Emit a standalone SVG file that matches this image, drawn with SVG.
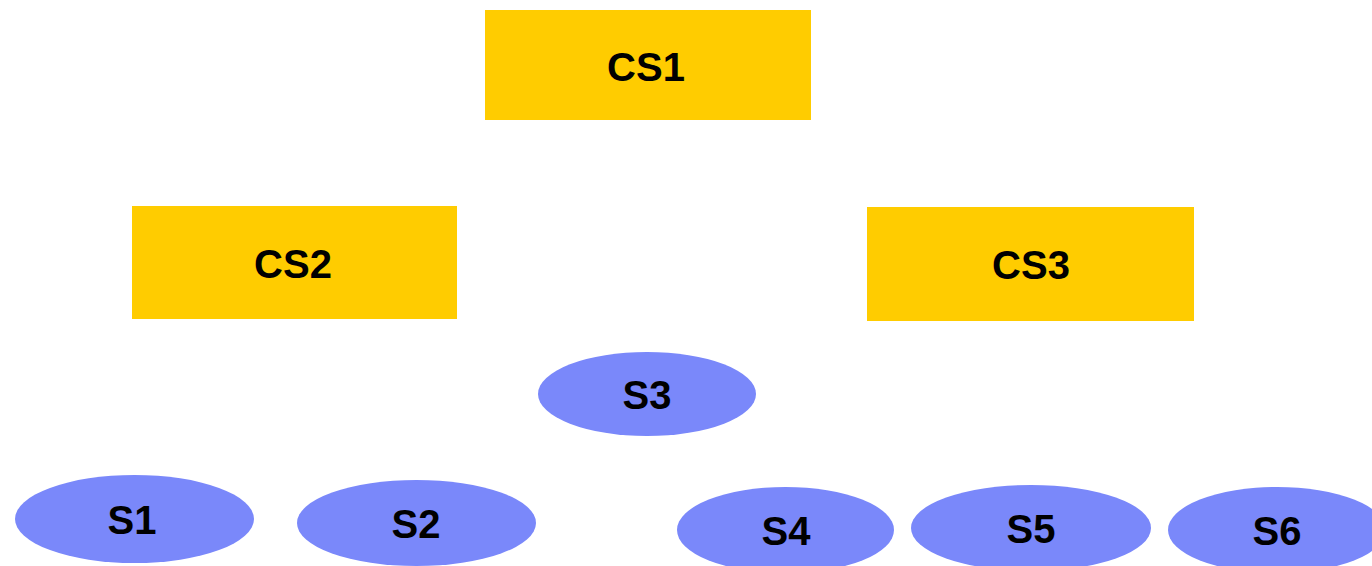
<svg xmlns="http://www.w3.org/2000/svg" width="1372" height="566" viewBox="0 0 1372 566">
<style>
.cs{fill:#FFCC00}
.s{fill:#7A88FA}
text{font-family:"Liberation Sans",Arial,sans-serif;font-weight:bold;font-size:40px;fill:#000;text-anchor:middle}
</style>
<rect width="1372" height="566" fill="#fff"/>
<g id="connectors"></g>
<g id="CS1"><rect class="cs" x="485" y="10" width="326" height="110"/><text x="646" y="81">CS1</text></g>
<g id="CS2"><rect class="cs" x="132" y="206" width="325" height="113"/><text x="293" y="278">CS2</text></g>
<g id="CS3"><rect class="cs" x="867" y="207" width="327" height="114"/><text x="1031" y="279">CS3</text></g>
<g id="S3"><ellipse class="s" cx="647" cy="394" rx="109" ry="42"/><text x="647" y="409">S3</text></g>
<g id="S1"><ellipse class="s" cx="134.5" cy="519" rx="119.5" ry="44"/><text x="132" y="534">S1</text></g>
<g id="S2"><ellipse class="s" cx="416.5" cy="523" rx="119.5" ry="43"/><text x="416" y="538">S2</text></g>
<g id="S4"><ellipse class="s" cx="785.5" cy="530" rx="108.5" ry="43"/><text x="786" y="545">S4</text></g>
<g id="S5"><ellipse class="s" cx="1031" cy="528" rx="120" ry="43"/><text x="1031" y="543">S5</text></g>
<g id="S6"><ellipse class="s" cx="1277" cy="530" rx="109" ry="43"/><text x="1277" y="545">S6</text></g>
</svg>
